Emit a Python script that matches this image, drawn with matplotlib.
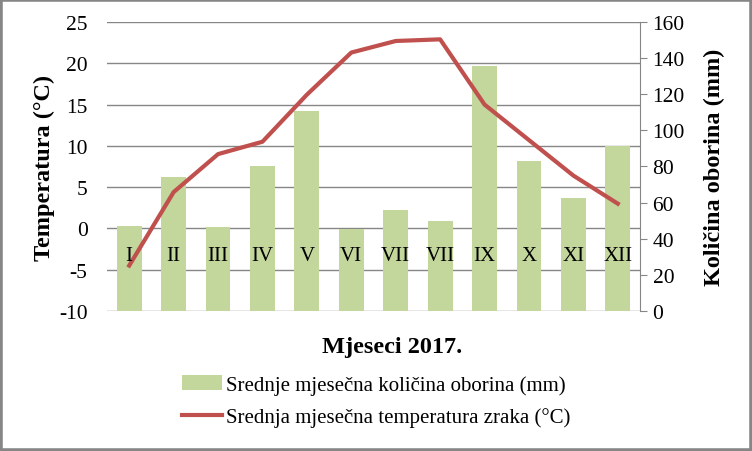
import matplotlib
matplotlib.use("Agg")
import matplotlib.pyplot as plt
from matplotlib.patches import Rectangle
import numpy as np

months = ["I", "II", "III", "IV", "V", "VI", "VII", "VII", "IX", "X", "XI", "XII"]
precip_mm = [47.1, 74.2, 46.5, 80.1, 110.9, 45.6, 55.7, 49.6, 135.8, 83.2, 62.7, 91.4]
temp_c = [-4.5, 4.4, 9.0, 10.5, 16.2, 21.3, 22.7, 22.9, 15.0, 10.7, 6.4, 3.0]

temp_ticks = [-10, -5, 0, 5, 10, 15, 20, 25]
precip_ticks = [0, 20, 40, 60, 80, 100, 120, 140, 160]

plt.rcParams['font.family'] = ['Liberation Serif', 'DejaVu Serif']
plt.rcParams['axes.unicode_minus'] = False

fig = plt.figure(figsize=(7.52, 4.52), dpi=100)
ax = fig.add_axes([107/752, 1-312/452, (640-107)/752, (312-23)/452])
ax2 = ax.twinx()

x = np.arange(len(months))
tmin, tmax = temp_ticks[0], temp_ticks[-1]
pmin, pmax = precip_ticks[0], precip_ticks[-1]

ax2.set_zorder(1)
ax.set_zorder(2)
ax.patch.set_visible(False)
ax2.patch.set_visible(False)

grid_col = '#868686'
for t in temp_ticks:
    ax2.axhline((t - tmin) / (tmax - tmin) * (pmax - pmin) + pmin, color=grid_col, lw=1.0, zorder=0)

bars = ax2.bar(x, precip_mm, width=0.56, color='#C3D69B', zorder=2,
               label='Srednje mjesečna količina oborina (mm)')
ax2.set_ylim(pmin, pmax)
ax2.set_yticks(precip_ticks)
ax2.tick_params(axis='y', labelsize=15.5, direction='out', length=5, color=grid_col, pad=4)

line, = ax.plot(x, temp_c, color='#C0504D', lw=3, zorder=3,
                label='Srednja mjesečna temperatura zraka (°C)')
ax.set_ylim(tmin, tmax)
ax.set_yticks(temp_ticks)
ax.set_xlim(-0.5, len(months) - 0.5)
ax.set_xticks([])
ax.tick_params(axis='y', labelsize=15.5, length=0, pad=14)

for a in (ax, ax2):
    for s in ['top', 'left', 'bottom', 'right']:
        a.spines[s].set_visible(False)
ax2.spines['right'].set_visible(True)
ax2.spines['right'].set_color(grid_col)

for i, m in enumerate(months):
    ax.text(i, -3.3, m, ha='center', va='center', fontsize=15, zorder=4)

ax.set_ylabel('Temperatura (°C)', fontsize=17.5, fontweight='bold', labelpad=3)
ax2.set_ylabel('Količina oborina (mm)', fontsize=17.5, fontweight='bold', labelpad=14)

fig.text(392/752, 1-347/452, 'Mjeseci 2017.', ha='center', va='center',
         fontsize=17.5, fontweight='bold')

fig.legend(handles=[bars, line], loc='center', bbox_to_anchor=(376/752, 1-402/452),
           frameon=False, fontsize=15, handlelength=1.9, handletextpad=0.2,
           labelspacing=0.6, borderpad=0)

fig.patches.append(Rectangle((0, 0), 1, 1, transform=fig.transFigure, fill=False,
                             edgecolor='#868686', lw=4))

fig.savefig('out.png', dpi=100)
